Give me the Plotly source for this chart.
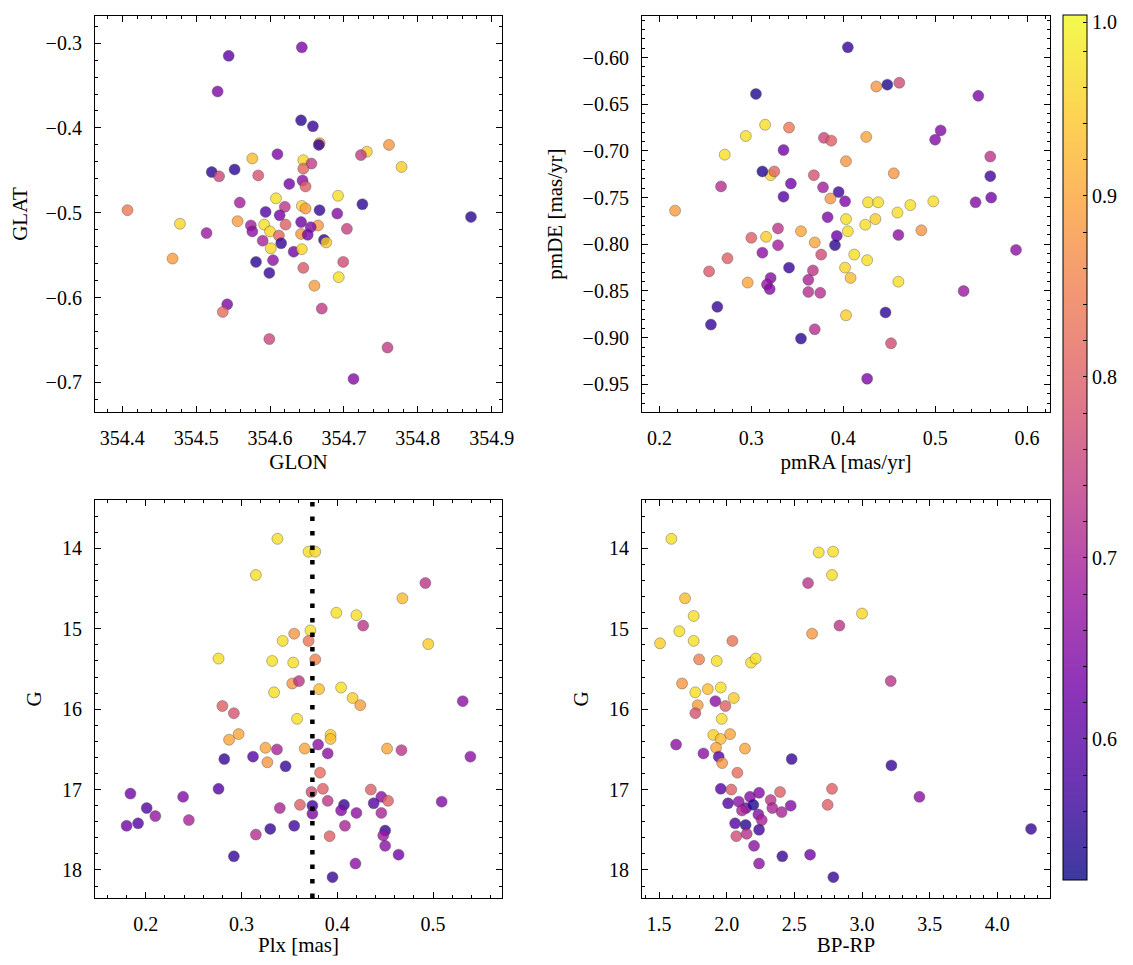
import plotly.graph_objects as go
from plotly.colors import sequential

# ---------------- data ----------------
glon = [354.643, 354.544, 354.529, 354.642, 354.658, 354.667, 354.666, 354.761, 354.731, 354.723,
        354.778, 354.576, 354.610, 354.645, 354.656, 354.645, 354.521, 354.531, 354.552, 354.584,
        354.626, 354.644, 354.648, 354.692, 354.608, 354.559, 354.725, 354.407, 354.643, 354.648,
        354.620, 354.667, 354.691, 354.594, 354.613, 354.872, 354.478, 354.556, 354.592, 354.621,
        354.642, 354.665, 354.655, 354.574, 354.514, 354.576, 354.600, 354.704, 354.642, 354.651,
        354.612, 354.590, 354.673, 354.676, 354.615, 354.601, 354.632, 354.643, 354.468, 354.581,
        354.604, 354.699, 354.645, 354.599, 354.693, 354.660, 354.542, 354.536, 354.670, 354.599,
        354.759, 354.713]
glat = [-0.305, -0.315, -0.357, -0.391, -0.398, -0.418, -0.420, -0.420, -0.428, -0.432,
        -0.446, -0.436, -0.431, -0.438, -0.442, -0.448, -0.452, -0.457, -0.449, -0.456,
        -0.466, -0.462, -0.469, -0.480, -0.483, -0.488, -0.490, -0.497, -0.492, -0.495,
        -0.493, -0.497, -0.501, -0.499, -0.503, -0.505, -0.513, -0.510, -0.514, -0.514,
        -0.511, -0.515, -0.517, -0.515, -0.524, -0.522, -0.522, -0.519, -0.525, -0.526,
        -0.527, -0.533, -0.532, -0.535, -0.536, -0.542, -0.546, -0.543, -0.554, -0.558,
        -0.556, -0.558, -0.565, -0.571, -0.576, -0.586, -0.608, -0.617, -0.613, -0.649,
        -0.659, -0.696]
prob_pos = [0.64, 0.60, 0.64, 0.55, 0.56, 0.88, 0.55, 0.88, 0.95, 0.74,
            0.95, 0.93, 0.64, 0.96, 0.74, 0.81, 0.55, 0.76, 0.55, 0.78,
            0.63, 0.66, 0.80, 0.97, 0.97, 0.69, 0.55, 0.84, 0.96, 0.89,
            0.73, 0.56, 0.65, 0.59, 0.63, 0.55, 0.96, 0.89, 0.97, 0.80,
            0.62, 0.88, 0.64, 0.69, 0.68, 0.66, 0.96, 0.75, 0.88, 0.63,
            0.81, 0.70, 0.55, 0.95, 0.56, 0.96, 0.63, 0.96, 0.89, 0.55,
            0.66, 0.77, 0.79, 0.56, 0.97, 0.89, 0.64, 0.82, 0.74, 0.76,
            0.74, 0.65]

pmra = [0.405, 0.436, 0.448, 0.461, 0.305, 0.547, 0.315, 0.294, 0.341, 0.379,
        0.387, 0.425, 0.506, 0.500, 0.271, 0.335, 0.403, 0.560, 0.321, 0.312,
        0.325, 0.368, 0.455, 0.560, 0.267, 0.343, 0.378, 0.395, 0.386, 0.402,
        0.335, 0.427, 0.438, 0.498, 0.544, 0.561, 0.217, 0.473, 0.459, 0.383,
        0.403, 0.435, 0.424, 0.405, 0.354, 0.485, 0.329, 0.300, 0.316, 0.393,
        0.391, 0.460, 0.369, 0.329, 0.312, 0.376, 0.274, 0.588, 0.412, 0.426,
        0.341, 0.367, 0.402, 0.254, 0.321, 0.317, 0.320, 0.362, 0.408, 0.296,
        0.362, 0.375, 0.460, 0.531, 0.263, 0.446, 0.403, 0.256, 0.369, 0.354,
        0.452, 0.426]
pmde = [-0.589, -0.631, -0.629, -0.627, -0.639, -0.641, -0.672, -0.684, -0.675, -0.686,
        -0.689, -0.685, -0.678, -0.688, -0.704, -0.699, -0.711, -0.706, -0.726, -0.722,
        -0.722, -0.726, -0.724, -0.727, -0.738, -0.735, -0.739, -0.744, -0.751, -0.754,
        -0.749, -0.755, -0.755, -0.754, -0.755, -0.750, -0.764, -0.758, -0.766, -0.771,
        -0.773, -0.773, -0.779, -0.786, -0.786, -0.785, -0.783, -0.793, -0.792, -0.791,
        -0.801, -0.790, -0.798, -0.801, -0.809, -0.811, -0.815, -0.806, -0.811, -0.817,
        -0.825, -0.828, -0.825, -0.829, -0.836, -0.843, -0.848, -0.838, -0.836, -0.841,
        -0.851, -0.852, -0.840, -0.850, -0.867, -0.873, -0.876, -0.886, -0.891, -0.901,
        -0.906, -0.944]
prob_pm = [0.56, 0.88, 0.54, 0.77, 0.54, 0.64, 0.97, 0.97, 0.84, 0.76,
           0.80, 0.90, 0.65, 0.65, 0.97, 0.63, 0.88, 0.73, 0.96, 0.54,
           0.81, 0.78, 0.88, 0.57, 0.72, 0.63, 0.69, 0.57, 0.88, 0.64,
           0.59, 0.97, 0.97, 0.97, 0.65, 0.63, 0.89, 0.97, 0.97, 0.64,
           0.97, 0.95, 0.97, 0.97, 0.90, 0.88, 0.73, 0.80, 0.95, 0.62,
           0.55, 0.66, 0.90, 0.69, 0.66, 0.77, 0.80, 0.66, 0.97, 0.97,
           0.56, 0.73, 0.96, 0.79, 0.65, 0.67, 0.65, 0.70, 0.93, 0.90,
           0.72, 0.72, 0.97, 0.68, 0.56, 0.55, 0.95, 0.56, 0.72, 0.55,
           0.77, 0.64]

plx = [0.3375, 0.370, 0.377, 0.315, 0.492, 0.468, 0.399, 0.420, 0.427, 0.372,
       0.355, 0.370, 0.343, 0.495, 0.276, 0.332, 0.354, 0.377, 0.353, 0.360,
       0.381, 0.404, 0.334, 0.416, 0.424, 0.531, 0.280, 0.292, 0.358, 0.393,
       0.393, 0.297, 0.287, 0.380, 0.325, 0.337, 0.366, 0.452, 0.467, 0.390,
       0.312, 0.282, 0.327, 0.346, 0.539, 0.382, 0.276, 0.373, 0.385, 0.435,
       0.184, 0.239, 0.446, 0.438, 0.453, 0.390, 0.509, 0.361, 0.340, 0.374,
       0.374, 0.407, 0.404, 0.420, 0.446, 0.201, 0.210, 0.245, 0.180, 0.192,
       0.408, 0.355, 0.330, 0.450, 0.448, 0.315, 0.392, 0.450, 0.464, 0.292,
       0.419, 0.395]
g_plx = [13.88, 14.04, 14.04, 14.33, 14.43, 14.62, 14.80, 14.83, 14.96, 15.02,
         15.06, 15.15, 15.15, 15.19, 15.37, 15.40, 15.42, 15.38, 15.68, 15.65,
         15.75, 15.73, 15.79, 15.86, 15.95, 15.90, 15.96, 16.05, 16.12, 16.32,
         16.37, 16.31, 16.38, 16.44, 16.48, 16.50, 16.49, 16.49, 16.51, 16.55,
         16.59, 16.62, 16.66, 16.71, 16.59, 16.79, 16.99, 17.03, 16.99, 17.00,
         17.05, 17.09, 17.09, 17.17, 17.14, 17.14, 17.15, 17.19, 17.23, 17.20,
         17.30, 17.19, 17.26, 17.29, 17.29, 17.23, 17.33, 17.38, 17.45, 17.42,
         17.45, 17.45, 17.49, 17.51, 17.57, 17.56, 17.58, 17.70, 17.81, 17.83,
         17.92, 18.09]
prob_plx = [0.97, 0.97, 0.96, 0.97, 0.73, 0.93, 0.97, 0.97, 0.73, 0.97,
            0.88, 0.83, 0.97, 0.95, 0.97, 0.97, 0.97, 0.85, 0.88, 0.73,
            0.93, 0.97, 0.97, 0.95, 0.89, 0.66, 0.80, 0.78, 0.97, 0.95,
            0.93, 0.90, 0.90, 0.66, 0.90, 0.70, 0.90, 0.90, 0.73, 0.66,
            0.59, 0.56, 0.88, 0.56, 0.66, 0.82, 0.59, 0.77, 0.80, 0.80,
            0.63, 0.65, 0.66, 0.59, 0.80, 0.73, 0.65, 0.80, 0.70, 0.57,
            0.64, 0.56, 0.65, 0.66, 0.70, 0.59, 0.67, 0.70, 0.63, 0.59,
            0.70, 0.57, 0.56, 0.56, 0.68, 0.72, 0.80, 0.66, 0.63, 0.56,
            0.66, 0.56]
plx_mean = 0.374

bprp = [1.591, 2.680, 2.786, 2.778, 2.601, 1.692, 3.000, 1.756, 2.833, 1.650,
        2.631, 1.507, 1.756, 2.042, 1.796, 1.926, 2.180, 2.214, 1.670, 3.212,
        1.768, 1.860, 1.956, 2.052, 1.786, 1.916, 1.990, 1.768, 1.963, 1.901,
        1.956, 2.025, 1.921, 1.626, 1.828, 1.941, 1.966, 2.135, 2.480, 3.217,
        2.079, 1.956, 2.034, 2.394, 2.778, 3.424, 2.010, 2.089, 2.172, 2.239,
        2.325, 2.337, 2.406, 2.473, 2.746, 4.249, 2.143, 2.113, 2.234, 2.197,
        2.062, 2.140, 2.259, 2.239, 2.071, 2.148, 2.202, 2.411, 2.616, 2.239,
        2.788]
g_cmd = [13.88, 14.05, 14.04, 14.33, 14.43, 14.62, 14.81, 14.84, 14.96, 15.03,
         15.06, 15.18, 15.15, 15.15, 15.38, 15.40, 15.42, 15.37, 15.68, 15.65,
         15.79, 15.75, 15.73, 15.86, 15.95, 15.90, 15.96, 16.05, 16.12, 16.32,
         16.37, 16.31, 16.48, 16.44, 16.55, 16.59, 16.67, 16.49, 16.62, 16.70,
         16.79, 16.99, 17.00, 17.03, 16.99, 17.09, 17.17, 17.15, 17.09, 17.04,
         17.13, 17.23, 17.28, 17.20, 17.19, 17.49, 17.23, 17.26, 17.31, 17.19,
         17.42, 17.44, 17.38, 17.50, 17.58, 17.55, 17.70, 17.83, 17.81, 17.92,
         18.09]
prob_cmd = [0.97, 0.97, 0.97, 0.97, 0.73, 0.93, 0.96, 0.97, 0.73, 0.97,
            0.88, 0.95, 0.97, 0.83, 0.85, 0.97, 0.97, 0.97, 0.88, 0.73,
            0.97, 0.93, 0.97, 0.95, 0.89, 0.66, 0.80, 0.78, 0.97, 0.95,
            0.93, 0.90, 0.90, 0.66, 0.66, 0.59, 0.88, 0.90, 0.56, 0.56,
            0.82, 0.59, 0.80, 0.80, 0.80, 0.66, 0.59, 0.66, 0.65, 0.65,
            0.73, 0.70, 0.70, 0.65, 0.80, 0.56, 0.63, 0.70, 0.65, 0.54,
            0.59, 0.55, 0.70, 0.57, 0.77, 0.72, 0.66, 0.56, 0.63, 0.66,
            0.56]

p_min, p_max = 0.522, 1.0
cbar_major = [0.6, 0.7, 0.8, 0.9, 1.0]
cbar_labels = ["0.6", "0.7", "0.8", "0.9", "1.0"]
cbar_minor_step = 0.02

# ---------------- styling ----------------
FONT = "Liberation Serif"
OFF = 8                     # page body margin of the html page
W, H = 1133 - 2 * OFF, 965 - 2 * OFF
plasma = sequential.Plasma


def blend(hexc, a=0.8):
    h = hexc.lstrip("#")
    r, g, b = int(h[0:2], 16), int(h[2:4], 16), int(h[4:6], 16)
    return "rgb(%d,%d,%d)" % (round(a * r + (1 - a) * 255), round(a * g + (1 - a) * 255), round(a * b + (1 - a) * 255))


n = len(plasma)
plasma_scale = [[i / (n - 1), c] for i, c in enumerate(plasma)]
faded_scale = [[i / (n - 1), blend(c)] for i, c in enumerate(plasma)]

fig = go.Figure()


def scatter(x, y, c, xa, ya):
    fig.add_trace(go.Scatter(
        x=x, y=y, mode="markers", xaxis=xa, yaxis=ya, showlegend=False,
        marker=dict(size=11, color=c, colorscale=plasma_scale, cmin=p_min, cmax=p_max,
                    opacity=0.8, line=dict(width=0.6, color="rgba(40,40,40,0.7)"),
                    showscale=False)))


scatter(glon, glat, prob_pos, "x", "y")
scatter(pmra, pmde, prob_pm, "x2", "y2")
scatter(plx, g_plx, prob_plx, "x3", "y3")
scatter(bprp, g_cmd, prob_cmd, "x4", "y4")

# colorbar ticks: labelled majors plus unlabelled minors
cb_vals, cb_text = [], []
k = 0
while True:
    v = round(0.54 + k * cbar_minor_step, 4)
    if v > p_max + 1e-9:
        break
    lab = ""
    for mv, mt in zip(cbar_major, cbar_labels):
        if abs(mv - v) < 1e-6:
            lab = mt
    # keep the top label just inside the page
    cb_vals.append(min(v, p_max - 0.004))
    cb_text.append(lab)
    k += 1

fig.add_trace(go.Scatter(
    x=[None, None], y=[None, None], mode="markers", xaxis="x", yaxis="y", showlegend=False,
    hoverinfo="skip",
    marker=dict(color=[p_min, p_max], colorscale=faded_scale, cmin=p_min, cmax=p_max, showscale=True,
                colorbar=dict(x=(1063 - OFF) / W, xanchor="left", y=1 - (15 - OFF) / H, yanchor="top",
                              len=865 / H, lenmode="fraction", thickness=24, thicknessmode="pixels",
                              xpad=0, ypad=0,
                              outlinewidth=1, outlinecolor="black",
                              tickmode="array", ticks="inside", ticklen=4, tickcolor="black",
                              tickwidth=1,
                              tickvals=cb_vals, ticktext=cb_text,
                              ticklabeloverflow="allow",
                              tickfont=dict(family=FONT, size=20, color="black")))))

# dotted mean-parallax line
fig.add_shape(type="line", xref="x3", yref="y3 domain", x0=plx_mean, x1=plx_mean, y0=0, y1=1,
              line=dict(color="black", width=4.5, dash="4.5px,10px"))


def xdom(a, b):
    return [(a - OFF) / W, (b - OFF) / W]


def ydom(top, bottom):
    return [1 - (bottom - OFF) / H, 1 - (top - OFF) / H]


def axis(domain, rng, dtick, minor_dtick, title, anchor, tick0=None, standoff=6):
    d = dict(domain=domain, range=rng, dtick=dtick, anchor=anchor, automargin=False,
             showline=True, linecolor="black", linewidth=1.2, mirror="allticks",
             ticks="inside", ticklen=6, tickwidth=1, tickcolor="black",
             minor=dict(ticks="inside", ticklen=3, tickwidth=0.8, tickcolor="black", dtick=minor_dtick),
             showgrid=False, zeroline=False,
             tickfont=dict(family=FONT, size=20, color="black"),
             ticklabelstandoff=8,
             title=dict(text=title, font=dict(family=FONT, size=21, color="black"), standoff=standoff))
    if tick0 is not None:
        d["tick0"] = tick0
        d["minor"]["tick0"] = tick0
    return d


top = ydom(16, 412)
bot = ydom(500, 898)
left = xdom(95, 502)
right = xdom(642, 1050)

fig.update_layout(
    width=W, height=H, margin=dict(l=0, r=0, t=0, b=0),
    paper_bgcolor="white", plot_bgcolor="white",
    xaxis=axis(left, [354.363, 354.914], 0.1, 0.02, "GLON", "y", tick0=354.4),
    yaxis=axis(top, [-0.735, -0.268], 0.1, 0.02, "GLAT", "x", tick0=-0.3, standoff=14),
    xaxis2=axis(right, [0.181, 0.625], 0.1, 0.02, "pmRA [mas/yr]", "y2", tick0=0.2),
    yaxis2=axis(top, [-0.9796, -0.5555], 0.05, 0.01, "pmDE [mas/yr]", "x2", tick0=-0.6, standoff=14),
    xaxis3=axis(left, [0.147, 0.572], 0.1, 0.02, "Plx [mas]", "y3", tick0=0.2),
    yaxis3=axis(bot, [18.349, 13.397], 1, 0.2, "G", "x3", tick0=14, standoff=14),
    xaxis4=axis(right, [1.374, 4.389], 0.5, 0.1, "BP-RP", "y4", tick0=1.5),
    yaxis4=axis(bot, [18.349, 13.397], 1, 0.2, "G", "x4", tick0=14, standoff=14),
)
fig.layout.yaxis2.tickformat = ".2f"
fig.layout.xaxis4.tickformat = ".1f"

fig.write_html("out.html")
